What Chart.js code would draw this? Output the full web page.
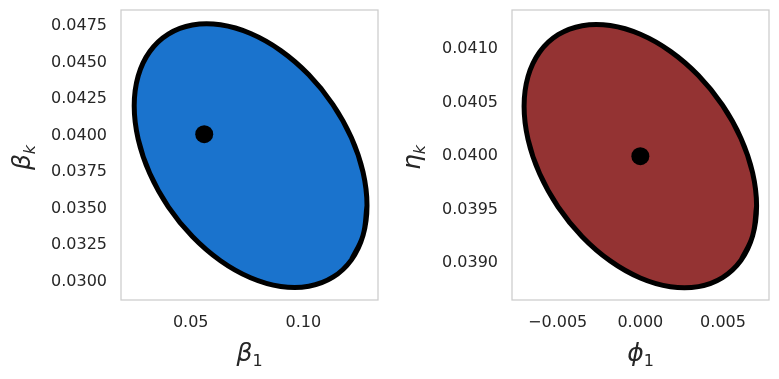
<!DOCTYPE html>
<html><head><meta charset="utf-8">
<script src="https://cdn.jsdelivr.net/npm/chart.js@4"></script>
<style>
html,body{margin:0;padding:0;background:#fff;overflow:hidden}
#wrap{position:relative;width:779px;height:379px;background:#fff}
canvas{position:absolute;top:0}
</style></head><body>
<div id="wrap">
<canvas id="c1" width="390" height="379" style="left:0px"></canvas>
<canvas id="c2" width="389" height="379" style="left:390px"></canvas>
</div>
<script>
// ---- Left panel data (beta_1 vs beta_k) ----
const leftEllipseX = [0.12823, 0.12647, 0.12131, 0.11310, 0.10241, 0.08995, 0.07658, 0.06321, 0.05076, 0.04006, 0.03185, 0.02669, 0.02493, 0.02669, 0.03185, 0.04006, 0.05076, 0.06321, 0.07658, 0.08995, 0.10241, 0.11310, 0.12131, 0.12647];
const leftEllipseY = [0.035220, 0.033173, 0.031498, 0.030308, 0.029686, 0.029674, 0.030271, 0.031438, 0.033096, 0.035130, 0.037402, 0.039759, 0.042038, 0.044085, 0.045760, 0.046950, 0.047572, 0.047584, 0.046987, 0.045820, 0.044162, 0.042128, 0.039856, 0.037499];
const leftPointX = [0.056];
const leftPointY = [0.0401];
const leftXTicks = [0.05, 0.10];
const leftXTickLabels = ['0.05', '0.10'];
const leftYTicks = [0.0300, 0.0325, 0.0350, 0.0375, 0.0400, 0.0425, 0.0450, 0.0475];
const leftYTickLabels = ['0.0300', '0.0325', '0.0350', '0.0375', '0.0400', '0.0425', '0.0450', '0.0475'];
const leftXRange = [0.01907, 0.13311];
const leftYRange = [0.02875, 0.04860];

// ---- Right panel data (phi_1 vs eta_k) ----
const rightEllipseX = [0.007029, 0.006789, 0.006087, 0.004970, 0.003515, 0.001819, 0, -0.001819, -0.003515, -0.004970, -0.006087, -0.006789, -0.007029, -0.006789, -0.006087, -0.004970, -0.003515, -0.001819, 0, 0.001819, 0.003515, 0.004970, 0.006087, 0.006789];
const rightEllipseY = [0.0395346, 0.0392564, 0.0390287, 0.0388673, 0.0387831, 0.0387818, 0.0388635, 0.0390226, 0.0392485, 0.0395255, 0.0398347, 0.0401554, 0.0404654, 0.0407436, 0.0409713, 0.0411327, 0.0412169, 0.0412182, 0.0411365, 0.0409774, 0.0407515, 0.0404745, 0.0401653, 0.0398446];
const rightPointX = [0.0];
const rightPointY = [0.0400];
const rightXTicks = [-0.005, 0.0, 0.005];
const rightXTickLabels = ['\u22120.005', '0.000', '0.005'];
const rightYTicks = [0.0390, 0.0395, 0.0400, 0.0405, 0.0410];
const rightYTickLabels = ['0.0390', '0.0395', '0.0400', '0.0405', '0.0410'];
const rightXRange = [-0.00776, 0.00778];
const rightYRange = [0.038658, 0.041363];

// axis titles (main symbol + subscript)
const leftXTitle = {main: '\u03B2', sub: '1', subItalic: false};
const leftYTitle = {main: '\u03B2', sub: 'k', subItalic: true};
const rightXTitle = {main: '\u03D5', sub: '1', subItalic: false};
const rightYTitle = {main: '\u03B7', sub: 'k', subItalic: true};

const TEXT = '#262626';
const FONT = '"DejaVu Sans", "Liberation Sans", sans-serif';

const framePlugin = {
  id: 'frame',
  afterDraw(chart) {
    const a = chart.chartArea, ctx = chart.ctx;
    ctx.save();
    ctx.strokeStyle = '#cccccc';
    ctx.lineWidth = 1.25;
    ctx.strokeRect(a.left, a.top, a.right - a.left, a.bottom - a.top);
    ctx.restore();
  }
};

const mathTitlePlugin = {
  id: 'mathTitles',
  afterDraw(chart, args, opts) {
    const ctx = chart.ctx, a = chart.chartArea;
    const draw = (t, x, y, rot) => {
      ctx.save();
      ctx.translate(x, y);
      if (rot) ctx.rotate(-Math.PI / 2);
      const mainFont = 'italic 25px ' + FONT;
      const subFont = (t.subItalic ? 'italic ' : '') + '16px ' + FONT;
      ctx.font = mainFont; const w1 = ctx.measureText(t.main).width;
      ctx.font = subFont; const w2 = ctx.measureText(t.sub).width;
      const gap = 0;
      const start = -(w1 + w2 + gap) / 2;
      ctx.fillStyle = TEXT;
      ctx.textBaseline = 'alphabetic';
      ctx.textAlign = 'left';
      ctx.font = mainFont; ctx.fillText(t.main, start, 0);
      ctx.font = subFont; ctx.fillText(t.sub, start + w1 + gap, opts.drop);
      ctx.restore();
    };
    draw(opts.x, (a.left + a.right) / 2, opts.xBaseline, false);
    draw(opts.y, opts.yBaseline, opts.yCenter, true);
  }
};

function makePanel(canvasId, cfg) {
  const loopIdx = cfg.ex.map((_, i) => i).concat([0, 1, 2]);
  const ellipse = loopIdx.map(i => ({x: cfg.ex[i], y: cfg.ey[i]}));
  const points = cfg.px.map((v, i) => ({x: v, y: cfg.py[i]}));
  return new Chart(document.getElementById(canvasId), {
    type: 'scatter',
    data: {
      datasets: [
        {
          data: points,
          order: 0,
          pointRadius: 9,
          pointHoverRadius: 9,
          pointBackgroundColor: '#000000',
          pointBorderColor: '#000000',
          pointBorderWidth: 0,
          showLine: false
        },
        {
          data: ellipse,
          order: 1,
          showLine: true,
          tension: 0.4,
          pointRadius: 0,
          pointHoverRadius: 0,
          borderColor: '#000000',
          borderWidth: 5,
          backgroundColor: cfg.fill,
          fill: 'shape'
        }
      ]
    },
    options: {
      responsive: false,
      animation: false,
      devicePixelRatio: 1,
      layout: {padding: {left: 0, right: cfg.padRight, top: 10, bottom: 0}},
      plugins: {
        legend: {display: false},
        tooltip: {enabled: false},
        mathTitles: {
          x: cfg.xTitle, y: cfg.yTitle,
          xBaseline: 361, yBaseline: cfg.yTitleX, yCenter: 157.5, drop: 5
        }
      },
      scales: {
        x: {
          type: 'linear',
          min: cfg.xr[0], max: cfg.xr[1],
          grid: {display: false, drawTicks: false},
          border: {display: false},
          afterBuildTicks: s => { s.ticks = cfg.xt.map(v => ({value: v})); },
          afterFit: s => { s.height = 79; s.paddingLeft = 0; s.paddingRight = 0; },
          ticks: {
            autoSkip: false,
            maxRotation: 0,
            padding: 13,
            color: TEXT,
            font: {family: FONT, size: 16},
            callback: (v, i) => cfg.xl[i]
          }
        },
        y: {
          type: 'linear',
          min: cfg.yr[0], max: cfg.yr[1],
          grid: {display: false, drawTicks: false},
          border: {display: false},
          afterBuildTicks: s => { s.ticks = cfg.yt.map(v => ({value: v})); },
          afterFit: s => { s.width = cfg.yAxisWidth; s.paddingTop = 0; s.paddingBottom = 0; },
          ticks: {
            autoSkip: false,
            padding: 14,
            color: TEXT,
            font: {family: FONT, size: 16},
            callback: (v, i) => cfg.yl[i]
          }
        }
      }
    },
    plugins: [framePlugin, mathTitlePlugin]
  });
}

makePanel('c1', {
  ex: leftEllipseX, ey: leftEllipseY, px: leftPointX, py: leftPointY,
  xt: leftXTicks, xl: leftXTickLabels, yt: leftYTicks, yl: leftYTickLabels,
  xr: leftXRange, yr: leftYRange, fill: '#1a73cd',
  xTitle: leftXTitle, yTitle: leftYTitle,
  padRight: 12, yAxisWidth: 121, yTitleX: 29.5
});
makePanel('c2', {
  ex: rightEllipseX, ey: rightEllipseY, px: rightPointX, py: rightPointY,
  xt: rightXTicks, xl: rightXTickLabels, yt: rightYTicks, yl: rightYTickLabels,
  xr: rightXRange, yr: rightYRange, fill: '#943333',
  xTitle: rightXTitle, yTitle: rightYTitle,
  padRight: 10, yAxisWidth: 122, yTitleX: 30
});
</script>
</body></html>
